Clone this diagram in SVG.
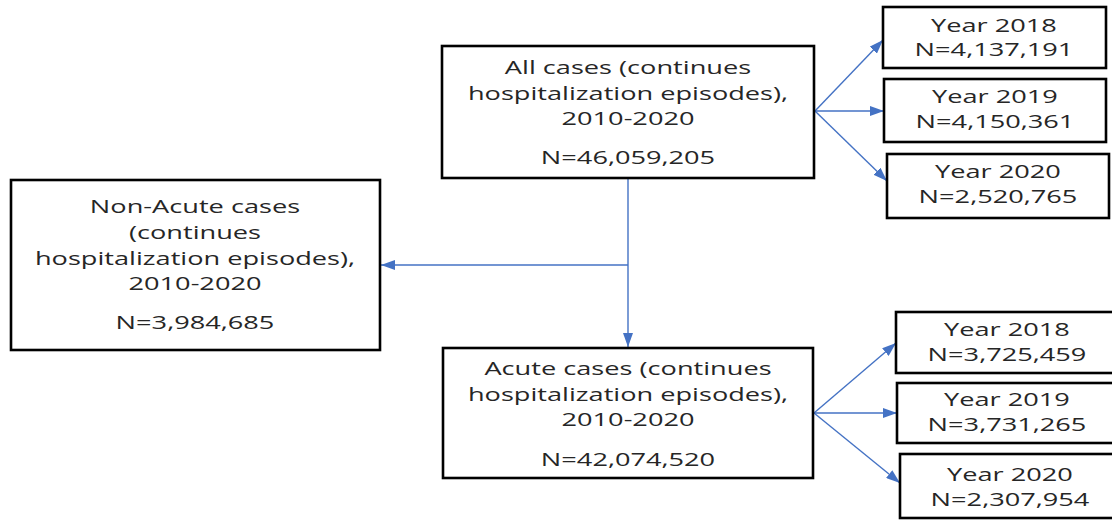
<svg xmlns="http://www.w3.org/2000/svg" width="1112" height="520" viewBox="0 0 1112 520">
<style>
.box{fill:#fff;stroke:#000;stroke-width:2.6}
.t{font-family:"Open Sans","Liberation Sans",sans-serif;font-size:19px;fill:#262626;text-anchor:middle}
.c{fill:none;stroke:#4472C4;stroke-width:1.4}
</style>
<defs>
<marker id="ah" markerUnits="userSpaceOnUse" markerWidth="14" markerHeight="10" refX="14" refY="5" orient="auto">
<path d="M0,0 L14,5 L0,10 z" fill="#4472C4"/>
</marker>
</defs>
<rect width="1112" height="520" fill="#fff"/>
<g id="connectors">
<line class="c" x1="815" y1="111" x2="883" y2="40" marker-end="url(#ah)"/>
<line class="c" x1="815" y1="111" x2="884" y2="111" marker-end="url(#ah)"/>
<line class="c" x1="815" y1="111" x2="887" y2="181" marker-end="url(#ah)"/>
<line class="c" x1="628" y1="179" x2="628" y2="347" marker-end="url(#ah)"/>
<line class="c" x1="628" y1="265" x2="381" y2="265" marker-end="url(#ah)"/>
<line class="c" x1="814" y1="413" x2="896" y2="343" marker-end="url(#ah)"/>
<line class="c" x1="814" y1="413" x2="897" y2="413" marker-end="url(#ah)"/>
<line class="c" x1="814" y1="413" x2="900" y2="483" marker-end="url(#ah)"/>
</g>
<g id="all-cases">
<rect class="box" x="442" y="46" width="372" height="132"/>
<g transform="translate(628,0) scale(1.43,1)">
<text class="t" x="0" y="74">All cases (continues</text>
<text class="t" x="0" y="100">hospitalization episodes),</text>
<text class="t" x="0" y="125">2010-2020</text>
<text class="t" x="0" y="164">N=46,059,205</text>
</g>
</g>
<g id="non-acute">
<rect class="box" x="11" y="180" width="369" height="170"/>
<g transform="translate(195,0) scale(1.43,1)">
<text class="t" x="0" y="213">Non-Acute cases</text>
<text class="t" x="0" y="239">(continues</text>
<text class="t" x="0" y="265">hospitalization episodes),</text>
<text class="t" x="0" y="290">2010-2020</text>
<text class="t" x="0" y="329">N=3,984,685</text>
</g>
</g>
<g id="acute">
<rect class="box" x="443" y="348" width="370" height="130"/>
<g transform="translate(628,0) scale(1.43,1)">
<text class="t" x="0" y="375">Acute cases (continues</text>
<text class="t" x="0" y="401">hospitalization episodes),</text>
<text class="t" x="0" y="426">2010-2020</text>
<text class="t" x="0" y="466">N=42,074,520</text>
</g>
</g>
<g id="all-2018">
<rect class="box" x="883" y="7" width="223" height="61"/>
<g transform="translate(994,0) scale(1.43,1)">
<text class="t" x="0" y="32">Year 2018</text>
<text class="t" x="0" y="56">N=4,137,191</text>
</g>
</g>
<g id="all-2019">
<rect class="box" x="884" y="79" width="222" height="63"/>
<g transform="translate(995,0) scale(1.43,1)">
<text class="t" x="0" y="103">Year 2019</text>
<text class="t" x="0" y="128">N=4,150,361</text>
</g>
</g>
<g id="all-2020">
<rect class="box" x="887" y="154" width="222" height="64"/>
<g transform="translate(998,0) scale(1.43,1)">
<text class="t" x="0" y="178">Year 2020</text>
<text class="t" x="0" y="203">N=2,520,765</text>
</g>
</g>
<g id="acute-2018">
<rect class="box" x="896" y="312" width="226" height="61"/>
<g transform="translate(1007,0) scale(1.43,1)">
<text class="t" x="0" y="336">Year 2018</text>
<text class="t" x="0" y="361">N=3,725,459</text>
</g>
</g>
<g id="acute-2019">
<rect class="box" x="897" y="383" width="225" height="60"/>
<g transform="translate(1007,0) scale(1.43,1)">
<text class="t" x="0" y="406">Year 2019</text>
<text class="t" x="0" y="431">N=3,731,265</text>
</g>
</g>
<g id="acute-2020">
<rect class="box" x="900" y="454" width="222" height="64"/>
<g transform="translate(1010,0) scale(1.43,1)">
<text class="t" x="0" y="481">Year 2020</text>
<text class="t" x="0" y="506">N=2,307,954</text>
</g>
</g>
</svg>
